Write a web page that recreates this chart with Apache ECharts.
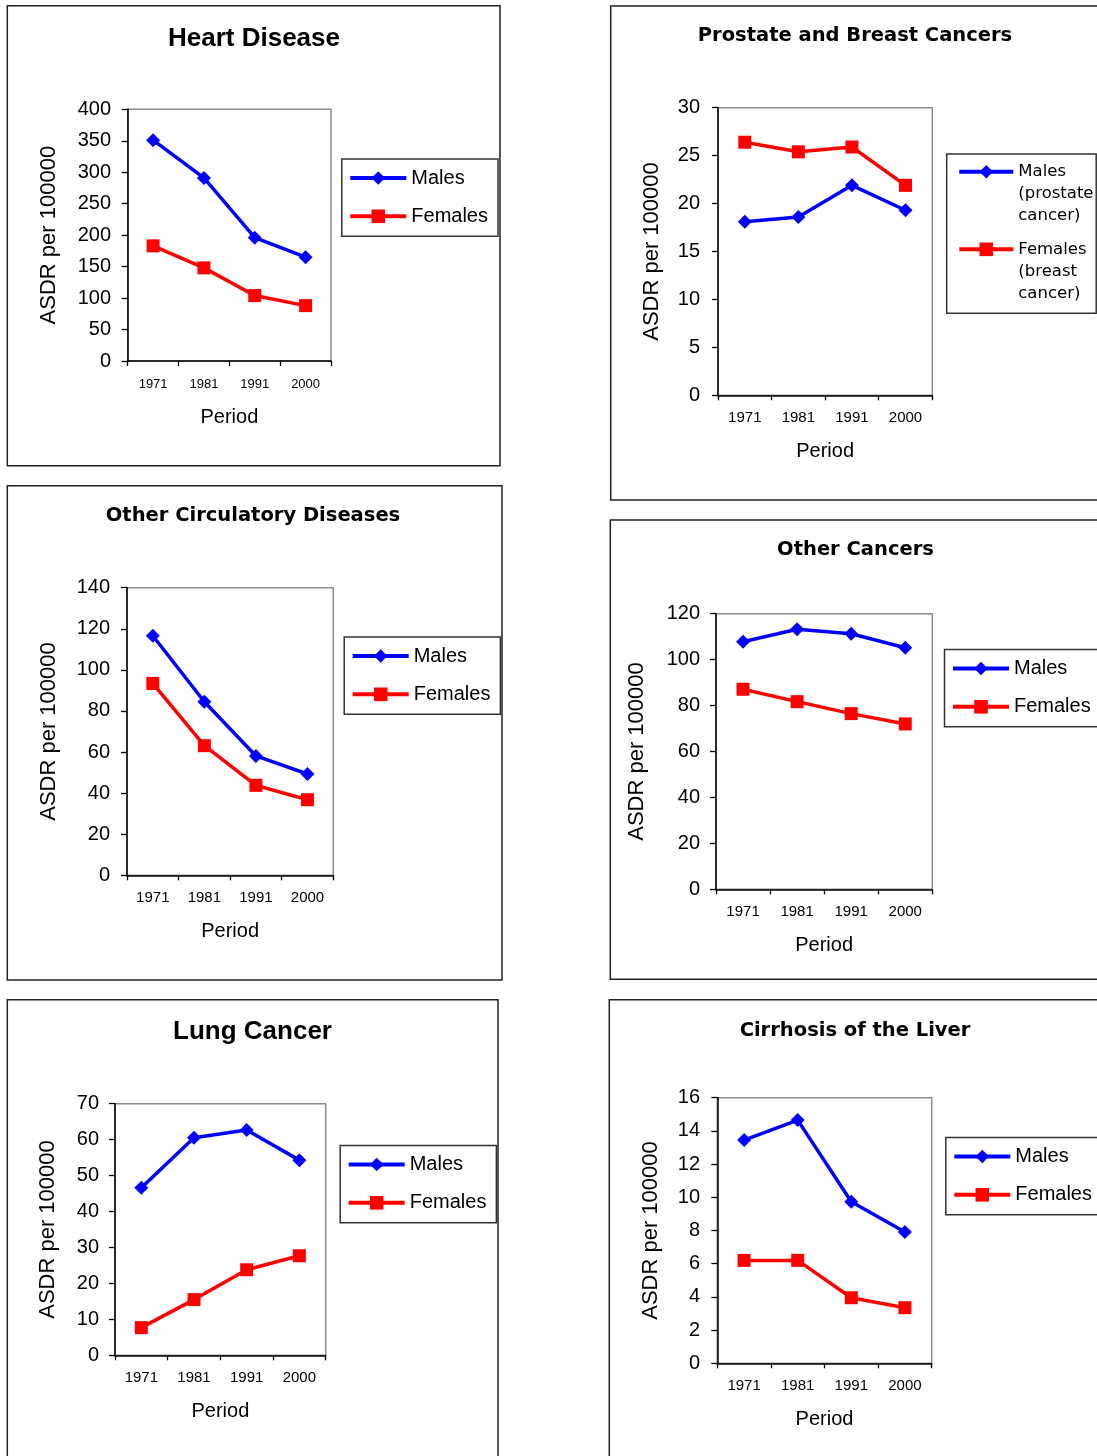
<!DOCTYPE html>
<html>
<head>
<meta charset="utf-8">
<title>ASDR per 100000 by period</title>
<script src="https://cdn.jsdelivr.net/npm/echarts@6.0.0/dist/echarts.min.js"></script>
<style>
html, body { margin: 0; padding: 0; background: #fff; }
#chart { width: 1097px; height: 1456px; }
</style>
</head>
<body>
<div id="chart"></div>
<script>
// periods on the x axis
var periods = ['1971', '1981', '1991', '2000'];

// ASDR per 100000
var heartMales = [351, 291, 196, 165];
var heartFemales = [183, 148, 104, 88];
var prostateMales = [18.1, 18.6, 21.9, 19.3];
var breastFemales = [26.4, 25.4, 25.9, 21.9];
var circMales = [116.6, 84.5, 58.1, 49.3];
var circFemales = [93.4, 63.1, 43.8, 36.8];
var otherMales = [107.8, 113.2, 111.3, 105.2];
var otherFemales = [87.1, 81.7, 76.5, 72.0];
var lungMales = [46.6, 60.5, 62.7, 54.3];
var lungFemales = [7.7, 15.5, 23.8, 27.7];
var liverMales = [13.45, 14.65, 9.73, 7.91];
var liverFemales = [6.2, 6.2, 3.95, 3.35];

var titles = ['Heart Disease', 'Prostate and Breast Cancers', 'Other Circulatory Diseases',
  'Other Cancers', 'Lung Cancer', 'Cirrhosis of the Liver'];
var maleNames = ['Males', 'Males (prostate cancer)', 'Males', 'Males', 'Males', 'Males'];
var femaleNames = ['Females', 'Females (breast cancer)', 'Females', 'Females', 'Females', 'Females'];
var malesData = [heartMales, prostateMales, circMales, otherMales, lungMales, liverMales];
var femalesData = [heartFemales, breastFemales, circFemales, otherFemales, lungFemales, liverFemales];

// y axis ticks
var yMax = [400, 30, 140, 120, 70, 16];
var yStep = [50, 5, 20, 20, 10, 2];

// layout of each panel (pixels)
var panels = [
  { box: [7.3, 5.7, 492.7, 460], grid: [127.7, 109.3, 203.3, 251.7], title: [254, 39], big: true,
    xFont: 13, xMargin: 16.5, yGap: 68, yMargin: 16.7, legend: [341.8, 159] },
  { box: [610.7, 6, 500, 494], grid: [718, 107.7, 214.3, 287.6], title: [855, 36], big: false,
    xFont: 15, xMargin: 15, yGap: 55, yMargin: 18, legend: [957.3, 116.7] },
  { box: [7.3, 485.7, 494.7, 494.3], grid: [127, 587.7, 206.3, 287.6], title: [253, 516], big: false,
    xFont: 15, xMargin: 15, yGap: 67.5, yMargin: 17, legend: [344.2, 637] },
  { box: [610.3, 520, 500, 459.3], grid: [716, 613.7, 216.3, 275.6], title: [855.5, 550], big: false,
    xFont: 15, xMargin: 15, yGap: 68, yMargin: 16, legend: [944.5, 649.5] },
  { box: [7.3, 999.7, 490.7, 500], grid: [115, 1103.7, 210.7, 251.6], title: [252.5, 1032], big: true,
    xFont: 15, xMargin: 15, yGap: 55.7, yMargin: 16, legend: [340.2, 1145.5] },
  { box: [609.3, 999.7, 500, 500], grid: [717.3, 1097.7, 214.4, 265.6], title: [855, 1031], big: false,
    xFont: 15, xMargin: 15, yGap: 55.8, yMargin: 17.3, legend: [945.8, 1137.5] }
];

var font = 'Liberation Sans, Arial, sans-serif';

var option = {
  animation: false,
  backgroundColor: '#fff',
  title: [], grid: [], xAxis: [], yAxis: [], series: [], legend: [], graphic: []
};

panels.forEach(function (p, i) {
  option.graphic.push({
    type: 'rect', silent: true, z: -10,
    shape: { x: p.box[0], y: p.box[1], width: p.box[2], height: p.box[3] },
    style: { fill: 'none', stroke: '#222', lineWidth: 1.5 }
  });
  option.title.push({
    text: titles[i], left: p.title[0], top: p.title[1], padding: 0,
    textAlign: 'center', textVerticalAlign: 'middle',
    textStyle: {
      fontFamily: p.big ? font : 'DejaVu Sans, sans-serif',
      fontSize: p.big ? 26 : 19.5, fontWeight: 'bold', color: '#000'
    }
  });
  option.grid.push({
    left: p.grid[0], top: p.grid[1], width: p.grid[2], height: p.grid[3],
    show: true, borderColor: '#8c8c8c', borderWidth: 1.5, backgroundColor: '#fff',
    containLabel: false, outerBoundsMode: 'none'
  });
  option.xAxis.push({
    type: 'category', gridIndex: i, data: periods, boundaryGap: true,
    name: 'Period', nameLocation: 'middle', nameGap: 46.5,
    nameTextStyle: { fontSize: 20, color: '#000', fontFamily: font },
    axisLine: { lineStyle: { color: '#000', width: 1.5 } },
    axisTick: { show: true, length: 5, lineStyle: { color: '#000', width: 1.3 } },
    axisLabel: { fontSize: p.xFont, margin: p.xMargin, color: '#000', fontFamily: font, interval: 0 },
    splitLine: { show: false }
  });
  option.yAxis.push({
    type: 'value', gridIndex: i, min: 0, max: yMax[i], interval: yStep[i],
    name: 'ASDR per 100000', nameLocation: 'middle', nameGap: p.yGap,
    nameTextStyle: { fontSize: 22, color: '#000', fontFamily: font },
    axisLine: { show: true, lineStyle: { color: '#000', width: 1.5 } },
    axisTick: { show: true, length: 6, lineStyle: { color: '#000', width: 1.3 } },
    axisLabel: { fontSize: 20, margin: p.yMargin, color: '#000', fontFamily: font,
      showMinLabel: true, showMaxLabel: true },
    splitLine: { show: false }
  });
  option.series.push({
    type: 'line', name: maleNames[i], xAxisIndex: i, yAxisIndex: i, data: malesData[i],
    symbol: 'diamond', symbolSize: 14,
    lineStyle: { color: '#0000ff', width: 3.5 }, itemStyle: { color: '#0000ff' }
  });
  option.series.push({
    type: 'line', name: femaleNames[i], xAxisIndex: i, yAxisIndex: i, data: femalesData[i],
    symbol: 'rect', symbolSize: 13,
    lineStyle: { color: '#ff0000', width: 3.5 }, itemStyle: { color: '#ff0000' }
  });

  if (i === 1) {
    // three-line legend labels: two blank lines in front keep "Males"/"Females" level with the icon
    option.legend.push({
      data: [maleNames[i], femaleNames[i]], orient: 'vertical',
      left: p.legend[0], top: p.legend[1], padding: 0,
      itemWidth: 54, itemHeight: 17, itemGap: -32.4, itemTextGap: 4, selectedMode: false,
      lineStyle: { width: 4 },
      formatter: function (name) {
        return '\n\n' + name.replace(' (', '\n(').replace(' cancer)', '\ncancer)');
      },
      textStyle: { fontSize: 16.5, lineHeight: 22, color: '#000',
        fontFamily: 'DejaVu Sans, sans-serif' }
    });
    option.graphic.push({
      type: 'rect', silent: true,
      shape: { x: 946.7, y: 154, width: 149.5, height: 159.3 },
      style: { fill: 'none', stroke: '#333', lineWidth: 1.5 }
    });
  } else {
    option.legend.push({
      data: [maleNames[i], femaleNames[i]], orient: 'vertical',
      left: p.legend[0], top: p.legend[1], padding: [9, 10, 10, 6.5],
      itemWidth: 56, itemHeight: 17, itemGap: 18.3, selectedMode: false,
      lineStyle: { width: 4 },
      borderColor: '#333', borderWidth: 1.5,
      textStyle: { fontSize: 20, color: '#000', fontFamily: font }
    });
  }
});

var chart = echarts.init(document.getElementById('chart'), null, { renderer: 'canvas' });
chart.setOption(option);
</script>
</body>
</html>
